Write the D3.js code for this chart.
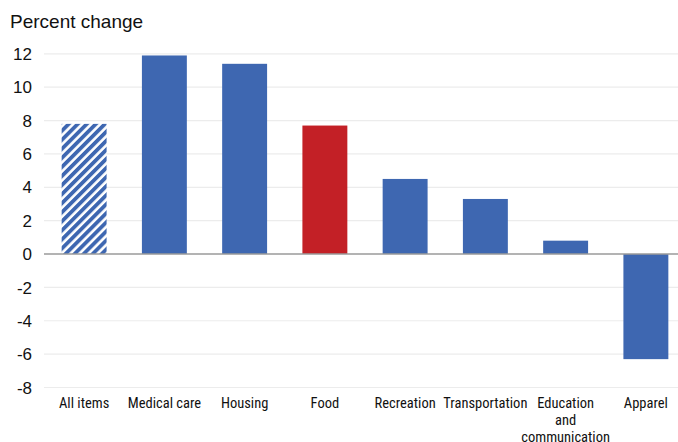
<!DOCTYPE html>
<html><head><meta charset="utf-8">
<script src="https://cdn.jsdelivr.net/npm/d3@7"></script>
<style>body{margin:0;background:#fff}svg{display:block}</style>
</head><body>
<svg id="c" width="678" height="442"></svg>
<script>
const categories = ["All items","Medical care","Housing","Food","Recreation","Transportation","Education and communication","Apparel"];
const labelLines = [["All items"],["Medical care"],["Housing"],["Food"],["Recreation"],["Transportation"],["Education","and","communication"],["Apparel"]];
const values = [7.8, 11.9, 11.4, 7.7, 4.5, 3.3, 0.8, -6.3];
const barKinds = ["hatched","solid","solid","highlight","solid","solid","solid","solid"];
const yTicks = [12,10,8,6,4,2,0,-2,-4,-6,-8];
const yTitle = "Percent change";

const svg = d3.select("#c");
const blue = "#3e67b1", red = "#c32026";
const x = d3.scaleBand().domain(categories).range([44, 686]).paddingInner(0.44).paddingOuter(0.22);
const y = d3.scaleLinear().domain([-8, 12]).range([387.5, 53.8]);

const defs = svg.append("defs");
const pat = defs.append("pattern").attr("id","hatch").attr("patternUnits","userSpaceOnUse")
  .attr("width",6.4).attr("height",6.4).attr("patternTransform","rotate(45)");
pat.append("rect").attr("width",6.4).attr("height",6.4).attr("fill","#fff");
pat.append("rect").attr("width",3.8).attr("height",6.4).attr("fill",blue);

// gridlines
svg.append("g").selectAll("line").data(yTicks.filter(d=>d!==0)).join("line")
  .attr("x1",44).attr("x2",678).attr("y1",d=>y(d)).attr("y2",d=>y(d))
  .attr("stroke","#ececec").attr("stroke-width",1.2);

// y labels
svg.append("g").selectAll("text").data(yTicks).join("text")
  .attr("x",32).attr("y",d=>y(d)).attr("dy","0.36em").attr("text-anchor","end")
  .attr("font-family","Liberation Sans, Arial, sans-serif").attr("font-size",17).attr("fill","#111")
  .text(d=>d);

svg.append("text").attr("x",10).attr("y",28).attr("font-family","Liberation Sans, Arial, sans-serif")
  .attr("font-size",19).attr("fill","#111").text(yTitle);

// bars
svg.append("g").selectAll("rect").data(values).join("rect")
  .attr("x",(d,i)=>x(categories[i])).attr("width",x.bandwidth())
  .attr("y",d=>y(Math.max(0,d))).attr("height",d=>Math.abs(y(d)-y(0)))
  .attr("fill",(d,i)=>barKinds[i]==="hatched"?"url(#hatch)":barKinds[i]==="highlight"?red:blue);

// zero line
svg.append("line").attr("x1",44).attr("x2",678).attr("y1",y(0)).attr("y2",y(0))
  .attr("stroke","#9a9a9a").attr("stroke-width",1.6);

// x labels
const xl = svg.append("g").selectAll("text").data(categories).join("text")
  .attr("x",d=>x(d)+x.bandwidth()/2).attr("y",408).attr("text-anchor","middle")
  .attr("font-family","Liberation Sans Narrow, Arial Narrow, Roboto Condensed, sans-serif")
  .attr("font-size",14.5).attr("fill","#111");
xl.each(function(d,i){
  const t = d3.select(this);
  labelLines[i].forEach((ln,j)=>{
    t.append("tspan").attr("x",x(d)+x.bandwidth()/2).attr("dy", j===0?0:17).text(ln);
  });
});
</script>
</body></html>
